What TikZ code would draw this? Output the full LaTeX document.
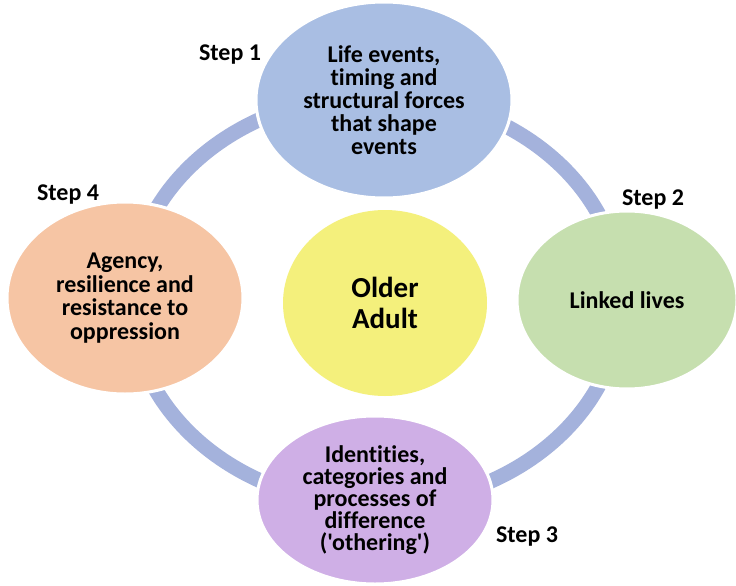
\documentclass[tikz,border=0pt]{standalone}
\usepackage{fontspec}
\newfontfamily\carl{Carlito}[Ligatures=NoCommon]
\usetikzlibrary{shapes.geometric}
\definecolor{ringc}{HTML}{A4B2DC}
\definecolor{bluec}{HTML}{A9BEE3}
\definecolor{orangec}{HTML}{F6C5A4}
\definecolor{yellowc}{HTML}{F4F07C}
\definecolor{greenc}{HTML}{C6DFAF}
\definecolor{purplec}{HTML}{CFAFE6}
\tikzset{
  blob/.style={ellipse, draw=white, line width=3pt, inner sep=0pt, align=center,
    font=\carl\bfseries\fontsize{24}{23.5}\selectfont},
  steplabel/.style={inner sep=0pt, font=\carl\bfseries\fontsize{24}{24}\selectfont},
}
\begin{document}
\begin{tikzpicture}[x=1pt,y=-1pt]
\useasboundingbox (0,0) rectangle (736,586);
\fill[white] (0,0) rectangle (736,586);
\coordinate (ringcenter) at (376,300);
\draw[ringc, line width=15pt] (ringcenter) ellipse [x radius=245, y radius=205];
\node[blob, fill=bluec, minimum width=256pt, minimum height=196pt,
  font=\carl\bfseries\fontsize{24}{23}\selectfont] (top) at (384,100)
  {Life events,\\ timing and\\ structural forces\\ that shape\\ events};
\node[blob, fill=orangec, minimum width=236pt, minimum height=192pt] (left) at (125,298)
  {Agency,\\ resilience and\\ resistance to\\ oppression};
\node[blob, fill=greenc, minimum width=220pt, minimum height=178pt] (right) at (627,300)
  {Linked lives};
\node[blob, fill=purplec, minimum width=236pt, minimum height=168pt,
  font=\carl\bfseries\fontsize{24}{22}\selectfont] (bottom) at (375,500)
  {Identities,\\ categories and\\ processes of\\ difference\\ ('othering')};
\node[blob, fill=yellowc, draw=none, minimum width=204pt, minimum height=186pt,
  font=\carl\bfseries\fontsize{29}{31}\selectfont] (center) at (385,303) {Older\\ Adult};
\node[steplabel] (s1) at (230,55) {Step 1};
\node[steplabel] (s2) at (653,200) {Step 2};
\node[steplabel] (s3) at (527,537) {Step 3};
\node[steplabel] (s4) at (68,195) {Step 4};
\end{tikzpicture}
\end{document}
